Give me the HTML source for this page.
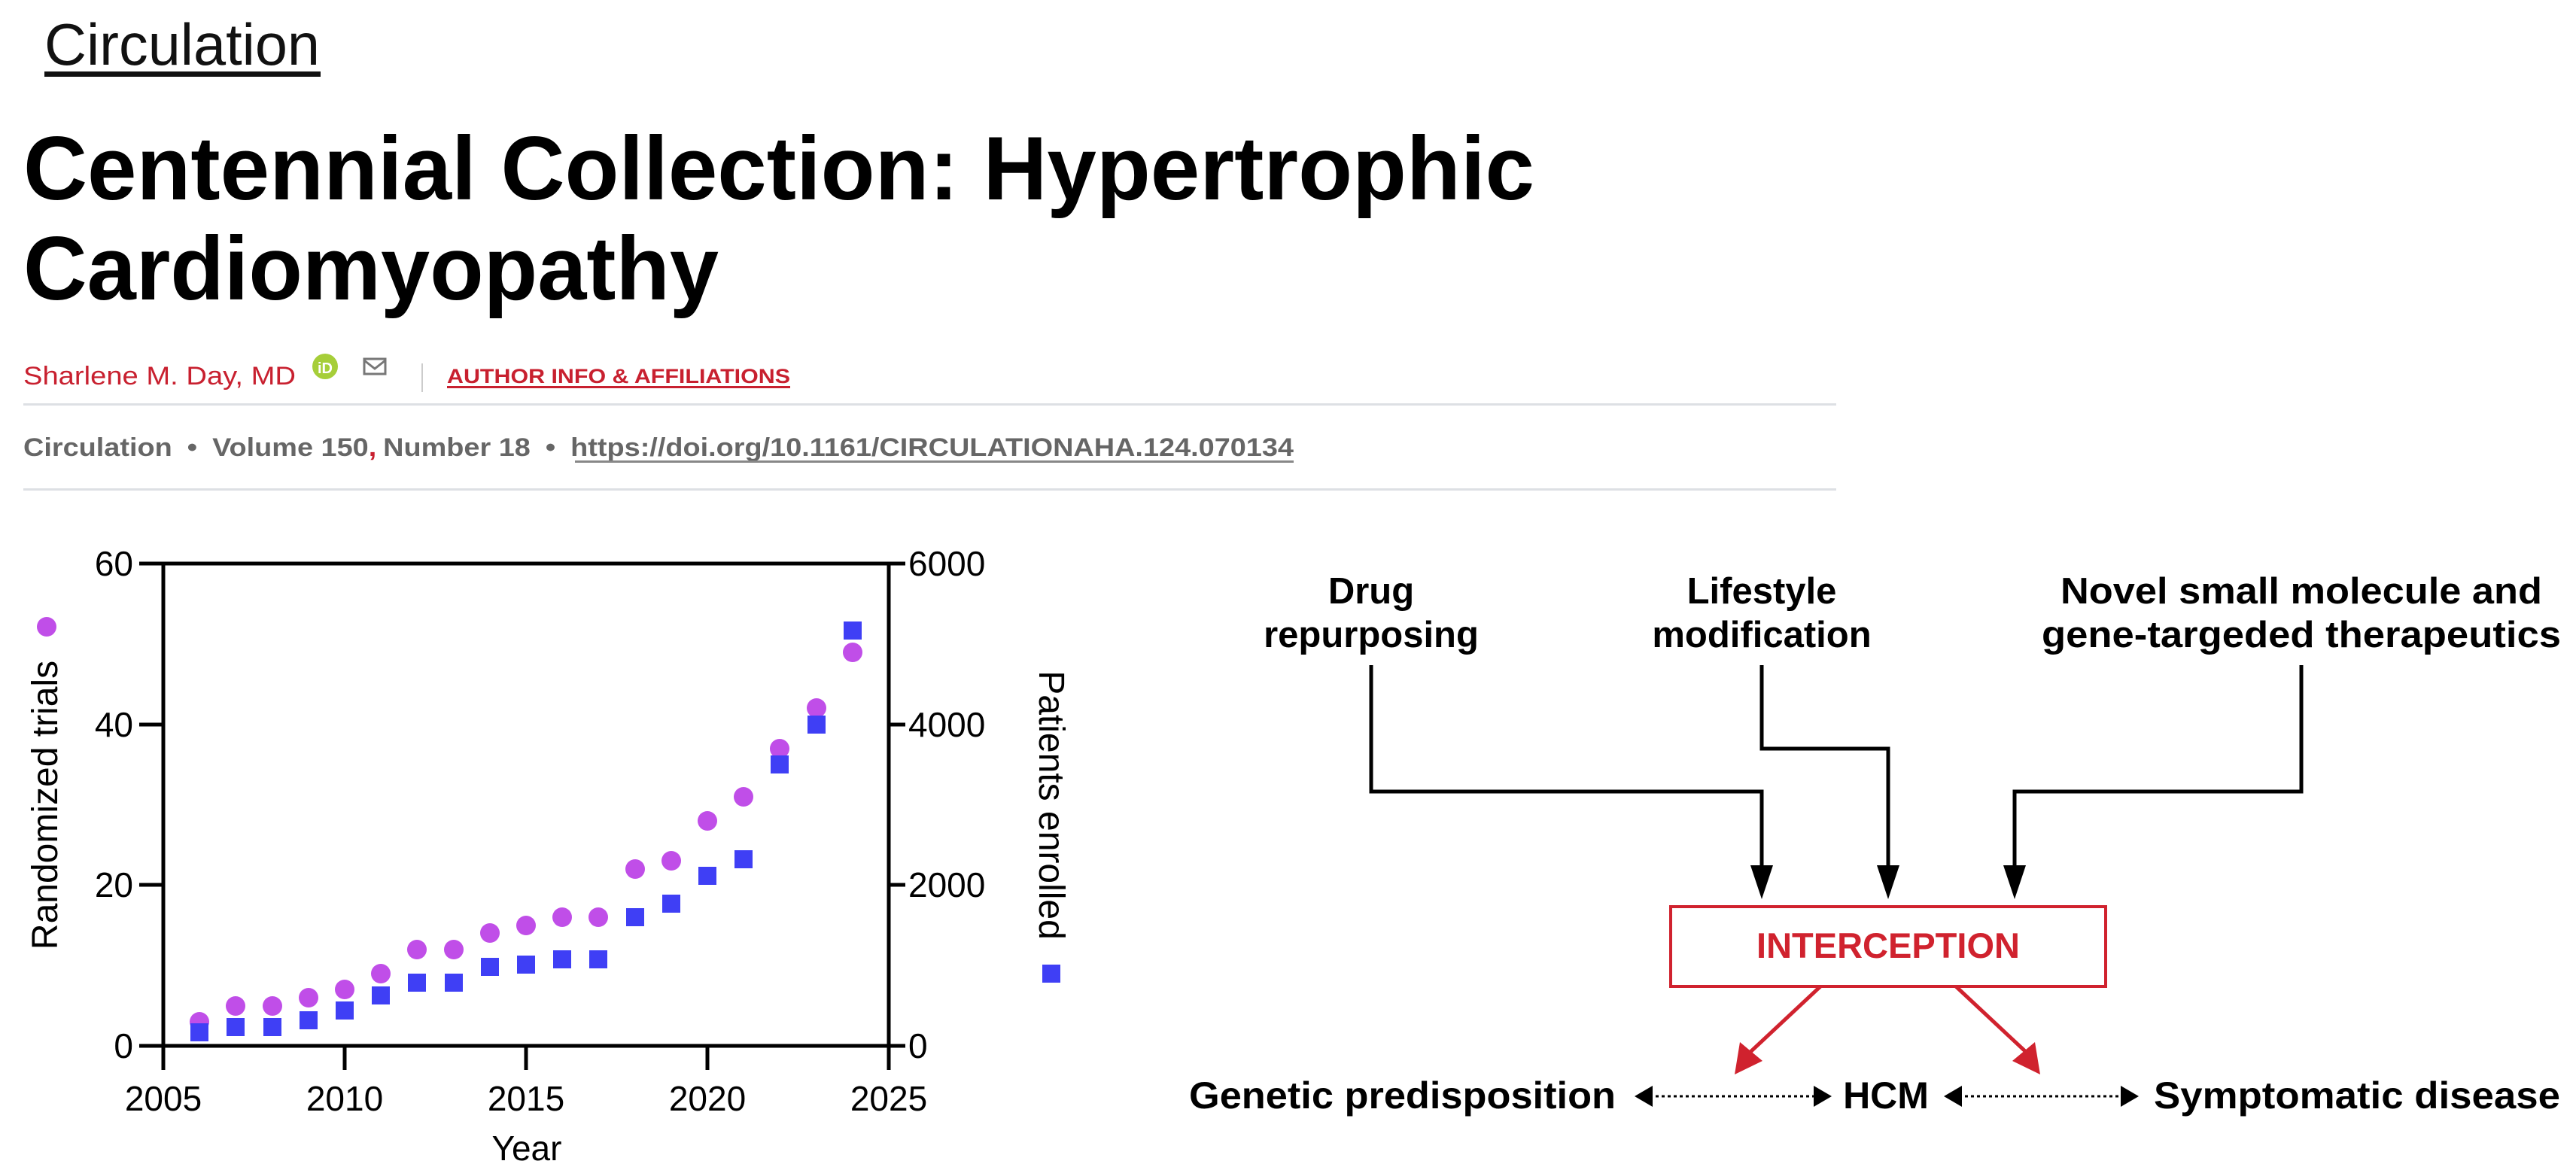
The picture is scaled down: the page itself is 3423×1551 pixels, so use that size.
<!DOCTYPE html>
<html><head><meta charset="utf-8"><style>
html,body{margin:0;padding:0;background:#fff;}
svg{display:block;}
text{font-family:"Liberation Sans",Arial,sans-serif;}
</style></head><body>
<svg width="3423" height="1551" viewBox="0 0 3423 1551" xmlns="http://www.w3.org/2000/svg">
<!-- header -->
<text x="59" y="86" font-size="78" font-weight="300" fill="#111" textLength="366" lengthAdjust="spacingAndGlyphs">Circulation</text>
<rect x="59" y="95" width="367" height="7" fill="#111"/>
<text x="31" y="265" font-size="120" font-weight="700" fill="#000" textLength="2008" lengthAdjust="spacingAndGlyphs">Centennial Collection: Hypertrophic</text>
<text x="31" y="398" font-size="120" font-weight="700" fill="#000" textLength="924" lengthAdjust="spacingAndGlyphs">Cardiomyopathy</text>
<text x="31" y="511" font-size="34" fill="#c8202f" textLength="362" lengthAdjust="spacingAndGlyphs">Sharlene M. Day, MD</text>
<circle cx="432" cy="487" r="17" fill="#a6ce39"/>
<text x="432" y="496" font-size="20" font-weight="700" fill="#fff" text-anchor="middle">iD</text>
<rect x="484" y="477" width="28" height="20" fill="none" stroke="#777" stroke-width="3"/>
<polyline points="484,479 498,490 512,479" fill="none" stroke="#777" stroke-width="3"/>
<rect x="560" y="483" width="2" height="38" fill="#ccc"/>
<text x="594" y="509" font-size="27" font-weight="700" fill="#c8202f" textLength="456" lengthAdjust="spacingAndGlyphs">AUTHOR INFO &amp; AFFILIATIONS</text>
<rect x="594" y="513" width="456" height="3" fill="#c8202f"/>
<rect x="31" y="536" width="2409" height="3" fill="#dde0e4"/>
<text x="31" y="606" font-size="34" font-weight="700" fill="#666" textLength="1688" lengthAdjust="spacingAndGlyphs"><tspan>Circulation</tspan><tspan dx="18">•</tspan><tspan dx="18">Volume 150</tspan><tspan fill="#c8202f">,</tspan><tspan dx="8">Number 18</tspan><tspan dx="18">•</tspan><tspan dx="18">https://doi.org/10.1161/CIRCULATIONAHA.124.070134</tspan></text>
<rect x="764" y="612" width="955" height="3" fill="#888"/>
<rect x="31" y="649" width="2409" height="3" fill="#dde0e4"/>

<!-- chart -->
<g stroke="#000" stroke-width="5" fill="none">
<rect x="217" y="749" width="964" height="641"/>
<line x1="185" y1="749" x2="217" y2="749"/><line x1="185" y1="963" x2="217" y2="963"/><line x1="185" y1="1176" x2="217" y2="1176"/><line x1="185" y1="1390" x2="217" y2="1390"/>
<line x1="1181" y1="749" x2="1203" y2="749"/><line x1="1181" y1="963" x2="1203" y2="963"/><line x1="1181" y1="1176" x2="1203" y2="1176"/><line x1="1181" y1="1390" x2="1203" y2="1390"/>
<line x1="217" y1="1390" x2="217" y2="1422"/><line x1="458" y1="1390" x2="458" y2="1422"/><line x1="699" y1="1390" x2="699" y2="1422"/><line x1="940" y1="1390" x2="940" y2="1422"/><line x1="1181" y1="1390" x2="1181" y2="1422"/>
</g>
<g font-size="46" fill="#000" text-anchor="end">
<text x="177" y="765">60</text><text x="177" y="979">40</text><text x="177" y="1192">20</text><text x="177" y="1406">0</text>
</g>
<g font-size="46" fill="#000" text-anchor="start">
<text x="1207" y="765">6000</text><text x="1207" y="979">4000</text><text x="1207" y="1192">2000</text><text x="1207" y="1406">0</text>
</g>
<g font-size="46" fill="#000" text-anchor="middle">
<text x="217" y="1476">2005</text><text x="458" y="1476">2010</text><text x="699" y="1476">2015</text><text x="940" y="1476">2020</text><text x="1181" y="1476">2025</text>
<text x="700" y="1542">Year</text>
</g>
<text transform="translate(76,1070) rotate(-90)" font-size="48" text-anchor="middle" fill="#000">Randomized trials</text>
<circle cx="62" cy="833" r="13" fill="#c04ee8"/>
<text transform="translate(1381,1070) rotate(90)" font-size="48" text-anchor="middle" fill="#000">Patients enrolled</text>
<rect x="1385" y="1282" width="24" height="24" fill="#3f3ff5"/>
<g fill="#c04ee8">
<circle cx="265" cy="1358" r="13"/><circle cx="313" cy="1337" r="13"/><circle cx="362" cy="1337" r="13"/><circle cx="410" cy="1326" r="13"/><circle cx="458" cy="1315" r="13"/><circle cx="506" cy="1294" r="13"/><circle cx="554" cy="1262" r="13"/><circle cx="603" cy="1262" r="13"/><circle cx="651" cy="1240" r="13"/><circle cx="699" cy="1230" r="13"/><circle cx="747" cy="1219" r="13"/><circle cx="795" cy="1219" r="13"/><circle cx="844" cy="1155" r="13"/><circle cx="892" cy="1144" r="13"/><circle cx="940" cy="1091" r="13"/><circle cx="988" cy="1059" r="13"/><circle cx="1036" cy="995" r="13"/><circle cx="1085" cy="941" r="13"/><circle cx="1133" cy="867" r="13"/>
</g>
<g fill="#3f3ff5">
<rect x="253" y="1360" width="24" height="24"/><rect x="301" y="1353" width="24" height="24"/><rect x="350" y="1353" width="24" height="24"/><rect x="398" y="1344" width="24" height="24"/><rect x="446" y="1331" width="24" height="24"/><rect x="494" y="1311" width="24" height="24"/><rect x="542" y="1294" width="24" height="24"/><rect x="591" y="1294" width="24" height="24"/><rect x="639" y="1273" width="24" height="24"/><rect x="687" y="1270" width="24" height="24"/><rect x="735" y="1263" width="24" height="24"/><rect x="783" y="1263" width="24" height="24"/><rect x="832" y="1207" width="24" height="24"/><rect x="880" y="1189" width="24" height="24"/><rect x="928" y="1152" width="24" height="24"/><rect x="976" y="1130" width="24" height="24"/><rect x="1024" y="1004" width="24" height="24"/><rect x="1073" y="951" width="24" height="24"/><rect x="1121" y="826" width="24" height="24"/>
</g>

<!-- diagram -->
<g font-size="49" font-weight="700" fill="#000" text-anchor="middle">
<text x="1822" y="802">Drug</text><text x="1822" y="860">repurposing</text>
<text x="2341" y="802">Lifestyle</text><text x="2341" y="860">modification</text>
<text x="3058" y="802" textLength="640" lengthAdjust="spacingAndGlyphs">Novel small molecule and</text>
<text x="3058" y="860" textLength="690" lengthAdjust="spacingAndGlyphs">gene-targeded therapeutics</text>
</g>
<g stroke="#000" stroke-width="5" fill="none">
<polyline points="1822,884 1822,1052 2341,1052 2341,1160"/>
<polyline points="2341,884 2341,995 2509,995 2509,1160"/>
<polyline points="3058,884 3058,1052 2677,1052 2677,1160"/>
</g>
<g fill="#000">
<polygon points="2326,1150 2356,1150 2341,1195"/>
<polygon points="2494,1150 2524,1150 2509,1195"/>
<polygon points="2662,1150 2692,1150 2677,1195"/>
</g>
<rect x="2220" y="1205" width="578" height="106" fill="none" stroke="#d0222e" stroke-width="4"/>
<text x="2509" y="1273" font-size="47" font-weight="700" fill="#d0222e" text-anchor="middle">INTERCEPTION</text>
<g stroke="#d0222e" stroke-width="5">
<line x1="2419" y1="1311" x2="2326" y2="1398"/>
<line x1="2599" y1="1311" x2="2692" y2="1398"/>
</g>
<g fill="#d0222e">
<polygon points="2305,1428 2312,1385 2342,1410"/>
<polygon points="2711,1428 2704,1385 2674,1410"/>
</g>
<g font-size="50" font-weight="700" fill="#000">
<text x="1580" y="1473" textLength="567" lengthAdjust="spacingAndGlyphs">Genetic predisposition</text>
<text x="2506" y="1473" text-anchor="middle">HCM</text>
<text x="2862" y="1473" textLength="540" lengthAdjust="spacingAndGlyphs">Symptomatic disease</text>
</g>
<g stroke="#000" stroke-width="3" stroke-dasharray="4,4">
<line x1="2192" y1="1457" x2="2414" y2="1457"/>
<line x1="2603" y1="1457" x2="2822" y2="1457"/>
</g>
<g fill="#000">
<polygon points="2172,1457 2196,1443 2196,1471"/>
<polygon points="2434,1457 2410,1443 2410,1471"/>
<polygon points="2583,1457 2607,1443 2607,1471"/>
<polygon points="2842,1457 2818,1443 2818,1471"/>
</g>
</svg>
</body></html>
